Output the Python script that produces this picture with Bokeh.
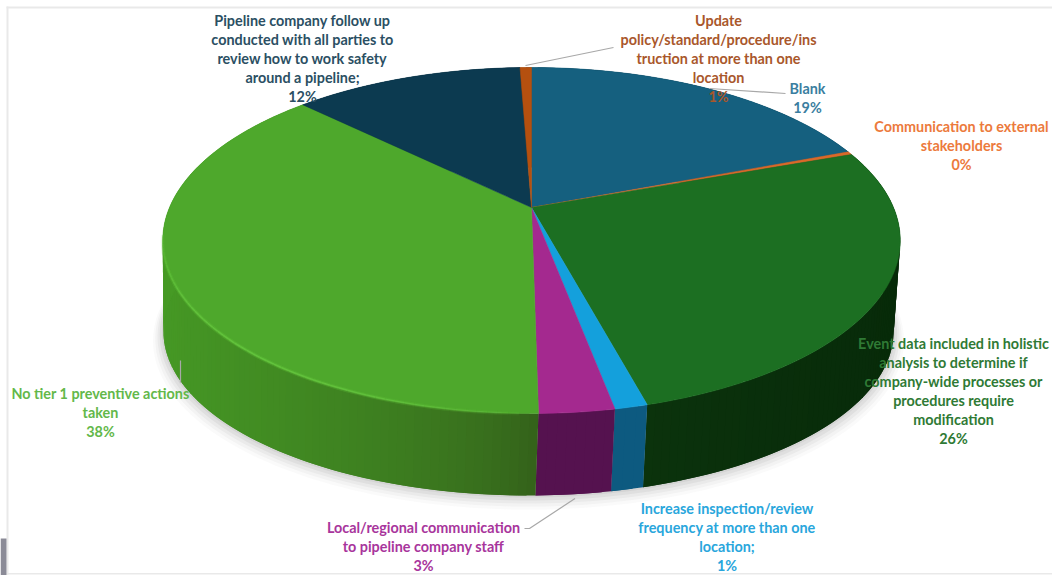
import numpy as np
from bokeh.plotting import figure
from bokeh.models import Range1d
from bokeh.core.properties import value
from bokeh.embed import file_html
from bokeh.resources import INLINE

# ---- data (percent of the pie, clockwise from 12 o'clock)
categories = ["Blank", "Communication to external stakeholders",
              "Event data included in holistic analysis",
              "Increase inspection/review frequency",
              "Local/regional communication",
              "No tier 1 preventive actions taken",
              "Pipeline company follow up",
              "Update policy/standard/procedure"]
shares = [19.2, 0.3, 26.3, 1.2, 2.75, 37.55, 12.1, 0.6]
top_colors = ["#15607f", "#d9692a", "#1c6f22", "#14a0dc", "#a4298f", "#4ea82c", "#0c3a50", "#b5500f"]
side_near = ["#0c3a50", "#7a3a15", "#0e3a0f", "#0d5a80", "#55124f", "#33601a", "#072433", "#6a300a"]
side_far = ["#0c3a50", "#7a3a15", "#072a09", "#0d5a80", "#55124f", "#469a25", "#072433", "#6a300a"]

label_lines = [
    ["Blank", "19%"],
    ["Communication to external", "stakeholders", "0%"],
    ["Event data included in holistic", "analysis to determine if", "company-wide processes or",
     "procedures require", "modification", "26%"],
    ["Increase inspection/review", "frequency at more than one", "location;", "1%"],
    ["Local/regional communication", "to pipeline company staff", "3%"],
    ["No tier 1 preventive actions", "taken", "38%"],
    ["Pipeline company follow up", "conducted with all parties to", "review how to work safety",
     "around a pipeline;", "12%"],
    ["Update", "policy/standard/procedure/ins", "truction at more than one", "location", "1%"],
]
label_colors = ["#3a7ea0", "#ec7a3c", "#2f7a35", "#29a6dc", "#a8359c", "#63b84a", "#2b4f63", "#a9572b"]
label_cx = [807, 961, 953, 726.5, 423, 100, 302, 718]
label_y0 = [88, 126, 343, 508, 527, 393, 20, 20]
label_dy = 18.9

leaders_x = [[525, 613], [709, 785], [574.5, 529, 524], [180, 180]]
leaders_y = [[65, 47], [88, 93], [498, 528, 528], [360, 382]]

# ---- projection of the tilted disc
CX, CY, A, B, K = 531.0, 207.0, 362.0, 166.7, 0.1907
DEPTH, SX, SY, SHIFT = 92.7, 0.99, 0.948, -3.0


def project(theta, sx=1.0, sy=1.0, dy=0.0, dx=0.0):
    u, v = np.sin(theta), -np.cos(theta)
    w = 1 - K * v
    return CX + dx + sx * A * u / w, CY + dy + sy * B * v / w


def mix(c1, c2, t):
    a = [int(c1[i:i + 2], 16) for i in (1, 3, 5)]
    b = [int(c2[i:i + 2], 16) for i in (1, 3, 5)]
    return "#%02x%02x%02x" % tuple(int(round(a[i] + (b[i] - a[i]) * t)) for i in range(3))


W, H = 1052, 575
p = figure(width=W, height=H, x_range=Range1d(0, W), y_range=Range1d(H, 0),
           output_backend="svg", toolbar_location=None, min_border=0,
           outline_line_color=None, background_fill_color="white", border_fill_color="white")
p.axis.visible = False
p.grid.visible = False

# frame remnants of the screenshot
p.quad(left=[6, 6, 6], right=[1052, 8, 1052], top=[6, 6, 572.5], bottom=[8, 575, 574],
       fill_color="#e9e9e9", line_color=None)
p.quad(left=[0], right=[6], top=[538], bottom=[575], fill_color="#8b8b97", line_color=None)

# soft shadow
circle = np.linspace(0, 2 * np.pi, 240)
for off, alpha in [(14, 0.03), (11, 0.04), (8, 0.05), (5, 0.07), (2, 0.08)]:
    sx, sy = project(circle, SX + off / 500, SY + off / 500, DEPTH + off * 0.6, SHIFT)
    p.patch(sx, sy, fill_color="#555555", fill_alpha=alpha, line_color=None)

edges = np.cumsum([0.0] + shares) / 100 * 2 * np.pi

# side wall: each step overlaps the next one, painted in order, so no seams show
for i in range(len(shares)):
    n = max(2, int((edges[i + 1] - edges[i]) / 0.02))
    th = np.linspace(edges[i], edges[i + 1], n + 1)
    tx, ty = project(th)
    bx, by = project(th, SX, SY, DEPTH, SHIFT)
    xs, ys, cs = [], [], []
    for j in range(n):
        mid = (th[j] + th[j + 1]) / 2
        t = np.clip(abs(np.sin(mid)), 0, 1) ** 0.6
        e = min(j + 2, n)
        xs.append([tx[j], tx[e], bx[e], bx[j]])
        ys.append([ty[j], ty[e], by[e], by[j]])
        cs.append(mix(side_near[i], side_far[i], t))
    p.patches(xs, ys, fill_color=cs, line_color=None)

# top surface
for i in range(len(shares)):
    th = np.linspace(edges[i], edges[i + 1], max(3, int((edges[i + 1] - edges[i]) / 0.01)))
    tx, ty = project(th)
    p.patch(np.r_[CX, tx], np.r_[CY, ty], fill_color=top_colors[i], line_color=top_colors[i], line_width=0.5)

# bright soft rim on the large light green slice, fading towards both ends
th = np.linspace(edges[5] + 0.02, edges[5] + 1.45, 61)
rx, ry = project(th)
segx = [list(rx[j:j + 2]) for j in range(60)]
segy = [list(ry[j:j + 2]) for j in range(60)]
fade = np.sin(np.linspace(0, np.pi, 60)) ** 0.5
p.multi_line(segx, segy, line_color="#5fbf38", line_width=4, line_alpha=list(0.35 * fade))
p.multi_line(segx, segy, line_color="#66c83f", line_width=1.8, line_alpha=list(0.75 * fade))

# leader lines
p.multi_line(leaders_x, leaders_y, line_color="#a8a8a8", line_width=1.2)

# labels
for lines, col, cx, y0 in zip(label_lines, label_colors, label_cx, label_y0):
    ly = [y0 + k * label_dy for k in range(len(lines))]
    p.text([cx] * len(lines), ly, text=lines, text_color=col, text_align="center",
           text_baseline="middle", text_font=value("Lato"), text_font_style="bold",
           text_font_size="14.4px")

open("out.html", "w").write(file_html(p, INLINE))
